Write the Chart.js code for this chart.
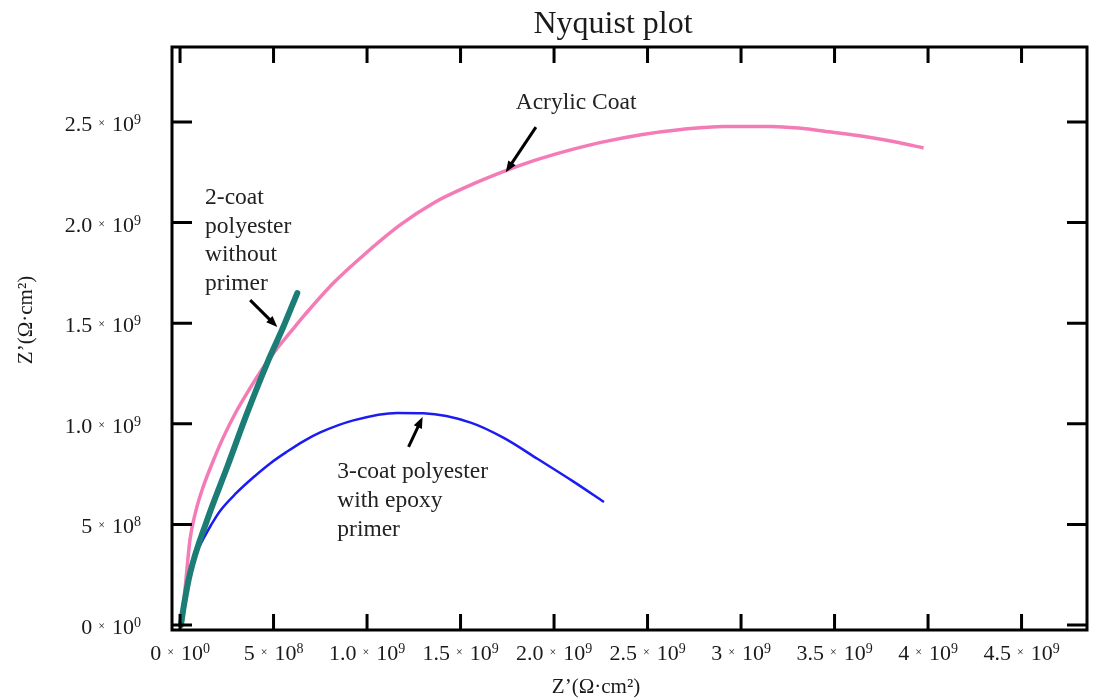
<!DOCTYPE html>
<html lang="en">
<head>
    <meta charset="utf-8" />
    <title>Nyquist plot</title>
    <script src="https://cdn.jsdelivr.net/npm/chart.js"></script>
    <style>
        html, body { margin: 0; padding: 0; background: #fff; }
        #wrap { width: 1094px; height: 700px; }
    </style>
</head>
<body>
<div id="wrap"><canvas id="nyquist" width="1094" height="700"></canvas></div>
<script>
    const acrylicX = [0.10e8, 0.32e8, 0.54e8, 0.86e8, 1.23e8, 1.77e8, 2.30e8, 3.00e8, 3.75e8, 4.45e8, 5.20e8, 5.89e8, 6.70e8, 8.20e8, 10.02e8, 11.79e8, 13.56e8, 15.38e8, 17.42e8, 18.92e8, 20.74e8, 22.51e8, 24.65e8, 26.80e8, 29.10e8, 31.62e8, 33.07e8, 34.83e8, 36.60e8, 38.42e8, 39.76e8];
    const acrylicY = [0.15e8, 2.30e8, 4.30e8, 5.72e8, 6.85e8, 8.15e8, 9.30e8, 10.60e8, 11.78e8, 12.80e8, 13.76e8, 14.54e8, 15.45e8, 17.00e8, 18.55e8, 19.90e8, 20.98e8, 21.80e8, 22.58e8, 23.08e8, 23.58e8, 23.99e8, 24.37e8, 24.63e8, 24.78e8, 24.78e8, 24.70e8, 24.50e8, 24.28e8, 23.98e8, 23.71e8];

    const twoCoatX = [0.05e8, 0.21e8, 0.54e8, 1.45e8, 2.52e8, 3.59e8, 4.66e8, 5.52e8, 6.27e8];
    const twoCoatY = [0.0, 0.99e8, 2.58e8, 5.22e8, 7.85e8, 10.54e8, 13.02e8, 14.81e8, 16.50e8];

    const threeCoatX = [0.12e8, 0.25e8, 0.40e8, 0.59e8, 0.80e8, 1.23e8, 1.66e8, 2.14e8, 3.00e8, 3.91e8, 4.82e8, 5.73e8, 6.59e8, 7.50e8, 9.27e8, 11.63e8, 13.02e8, 15.54e8, 17.31e8, 19.13e8, 21.00e8, 22.67e8];
    const threeCoatY = [0.30e8, 1.50e8, 2.30e8, 2.90e8, 3.45e8, 4.25e8, 4.97e8, 5.67e8, 6.55e8, 7.33e8, 8.03e8, 8.62e8, 9.13e8, 9.57e8, 10.17e8, 10.54e8, 10.52e8, 10.06e8, 9.30e8, 8.25e8, 7.15e8, 6.11e8];

    const xTickValues = [0, 5e8, 1e9, 1.5e9, 2e9, 2.5e9, 3e9, 3.5e9, 4e9, 4.5e9];
    const xTickLabels = ['0 × 10⁰', '5 × 10⁸', '1.0 × 10⁹', '1.5 × 10⁹', '2.0 × 10⁹', '2.5 × 10⁹', '3 × 10⁹', '3.5 × 10⁹', '4 × 10⁹', '4.5 × 10⁹'];
    const yTickValues = [0, 5e8, 1e9, 1.5e9, 2e9, 2.5e9];
    const yTickLabels = ['0 × 10⁰', '5 × 10⁸', '1.0 × 10⁹', '1.5 × 10⁹', '2.0 × 10⁹', '2.5 × 10⁹'];

    const FONT = '"Liberation Serif", "Times New Roman", serif';
    const SUP = { '⁰': '0', '¹': '1', '²': '2', '³': '3', '⁴': '4', '⁵': '5', '⁶': '6', '⁷': '7', '⁸': '8', '⁹': '9' };

    // labels and arrows, anchored in data units
    const notes = [
        { lines: ['Acrylic Coat'], x: 17.95e8, y: 25.94e8, step: 0, arrow: [19.03e8, 24.75e8, 17.42e8, 22.51e8] },
        { lines: ['2-coat', 'polyester', 'without', 'primer'], x: 1.34e8, y: 21.22e8, step: 28.5, arrow: [3.75e8, 16.15e8, 5.20e8, 14.81e8] },
        { lines: ['3-coat polyester', 'with epoxy', 'primer'], x: 8.41e8, y: 7.60e8, step: 29, arrow: [12.22e8, 8.85e8, 12.97e8, 10.34e8] }
    ];

    const toPoints = (xs, ys) => xs.map((x, i) => ({ x: x, y: ys[i] }));

    // "2.5 × 10⁹" drawn with a small raised × and a real superscript
    function drawSci(ctx, label, x, y, align) {
        const parts = label.split(' × 10');
        const mant = parts[0];
        const exp = parts[1].split('').map(c => SUP[c] || c).join('');
        const big = '22px ' + FONT, times = '12px ' + FONT, sup = '14px ' + FONT;
        ctx.font = big;
        const wM = ctx.measureText(mant).width;
        const w10 = ctx.measureText('10').width;
        ctx.font = times;
        const wT = ctx.measureText('×').width;
        ctx.font = sup;
        const wE = ctx.measureText(exp).width;
        const g1 = 6, g2 = 7;
        const total = wM + g1 + wT + g2 + w10 + wE;
        let x0 = align === 'right' ? x - total : x - total / 2;
        ctx.textAlign = 'left';
        ctx.textBaseline = 'alphabetic';
        const base = y + 7;
        ctx.font = big;
        ctx.fillText(mant, x0, base);
        x0 += wM + g1;
        ctx.font = times;
        ctx.fillText('×', x0, base - 4);
        x0 += wT + g2;
        ctx.font = big;
        ctx.fillText('10', x0, base);
        x0 += w10;
        ctx.font = sup;
        ctx.fillText(exp, x0, base - 7);
    }

    const framePlugin = {
        id: 'frame',
        afterDatasetsDraw(chart) {
            const { ctx, chartArea: a, scales } = chart;
            ctx.save();
            ctx.strokeStyle = '#000';
            ctx.lineWidth = 3;
            ctx.strokeRect(a.left, a.top, a.right - a.left, a.bottom - a.top);
            // inward ticks on all four sides
            xTickValues.forEach(v => {
                const px = scales.x.getPixelForValue(v);
                ctx.beginPath();
                ctx.moveTo(px, a.bottom); ctx.lineTo(px, a.bottom - 16);
                ctx.moveTo(px, a.top); ctx.lineTo(px, a.top + 16);
                ctx.stroke();
            });
            yTickValues.forEach(v => {
                const py = scales.y.getPixelForValue(v);
                ctx.beginPath();
                ctx.moveTo(a.left, py); ctx.lineTo(a.left + 20, py);
                ctx.moveTo(a.right, py); ctx.lineTo(a.right - 20, py);
                ctx.stroke();
            });

            // tick labels
            ctx.fillStyle = '#1a1a1a';
            xTickValues.forEach((v, i) => drawSci(ctx, xTickLabels[i], scales.x.getPixelForValue(v), 653, 'center'));
            yTickValues.forEach((v, i) => drawSci(ctx, yTickLabels[i], 141, scales.y.getPixelForValue(v) + 2, 'right'));

            // title
            ctx.font = '32px ' + FONT;
            ctx.textAlign = 'center';
            ctx.textBaseline = 'alphabetic';
            ctx.fillText('Nyquist plot', 613, 33);

            // axis titles
            ctx.font = '21px ' + FONT;
            ctx.textBaseline = 'middle';
            ctx.fillText('Z’(Ω·cm²)', 596, 687);
            ctx.translate(26, 320);
            ctx.rotate(-Math.PI / 2);
            ctx.fillText('Z’(Ω·cm²)', 0, 0);
            ctx.restore();

            // annotations
            ctx.save();
            ctx.strokeStyle = '#000';
            ctx.font = '23.5px ' + FONT;
            ctx.textAlign = 'left';
            ctx.textBaseline = 'middle';
            notes.forEach(n => {
                const tx = scales.x.getPixelForValue(n.x);
                const ty = scales.y.getPixelForValue(n.y);
                ctx.fillStyle = '#222';
                n.lines.forEach((s, i) => ctx.fillText(s, tx, ty + i * n.step));
                const x0 = scales.x.getPixelForValue(n.arrow[0]);
                const y0 = scales.y.getPixelForValue(n.arrow[1]);
                const x1 = scales.x.getPixelForValue(n.arrow[2]);
                const y1 = scales.y.getPixelForValue(n.arrow[3]);
                const ang = Math.atan2(y1 - y0, x1 - x0);
                ctx.lineWidth = 3;
                ctx.beginPath();
                ctx.moveTo(x0, y0);
                ctx.lineTo(x1 - 7 * Math.cos(ang), y1 - 7 * Math.sin(ang));
                ctx.stroke();
                ctx.beginPath();
                ctx.moveTo(x1, y1);
                ctx.lineTo(x1 - 12 * Math.cos(ang - 0.38), y1 - 12 * Math.sin(ang - 0.38));
                ctx.lineTo(x1 - 12 * Math.cos(ang + 0.38), y1 - 12 * Math.sin(ang + 0.38));
                ctx.closePath();
                ctx.fillStyle = '#000';
                ctx.fill();
            });
            ctx.restore();
        }
    };

    const ctx = document.getElementById('nyquist').getContext('2d');
    new Chart(ctx, {
        type: 'scatter',
        data: {
            datasets: [
                {
                    label: '2-coat polyester without primer',
                    data: toPoints(twoCoatX, twoCoatY),
                    showLine: true,
                    borderColor: '#1b7d76',
                    borderWidth: 6,
                    pointRadius: 0,
                    cubicInterpolationMode: 'monotone',
                    borderCapStyle: 'round'
                },
                {
                    label: 'Acrylic Coat',
                    data: toPoints(acrylicX, acrylicY),
                    showLine: true,
                    borderColor: '#f47cb6',
                    borderWidth: 3.5,
                    pointRadius: 0,
                    cubicInterpolationMode: 'monotone'
                },
                {
                    label: '3-coat polyester with epoxy primer',
                    data: toPoints(threeCoatX, threeCoatY),
                    showLine: true,
                    borderColor: '#1c1cf2',
                    borderWidth: 2.5,
                    pointRadius: 0,
                    cubicInterpolationMode: 'monotone'
                }
            ]
        },
        options: {
            responsive: false,
            animation: false,
            layout: { padding: { top: 47, right: 7, left: 0, bottom: 0 } },
            scales: {
                x: {
                    type: 'linear',
                    min: -0.43e8,
                    max: 4.85e9,
                    afterFit: s => { s.height = 70; },
                    afterBuildTicks: s => { s.ticks = xTickValues.map(v => ({ value: v })); },
                    grid: { display: false, drawTicks: false },
                    border: { display: false },
                    ticks: { display: false }
                },
                y: {
                    type: 'linear',
                    min: -0.25e8,
                    max: 2.873e9,
                    afterFit: s => { s.width = 172; },
                    afterBuildTicks: s => { s.ticks = yTickValues.map(v => ({ value: v })); },
                    grid: { display: false, drawTicks: false },
                    border: { display: false },
                    ticks: { display: false }
                }
            },
            plugins: {
                legend: { display: false },
                tooltip: { enabled: false },
                title: { display: false }
            }
        },
        plugins: [framePlugin]
    });
</script>
</body>
</html>
